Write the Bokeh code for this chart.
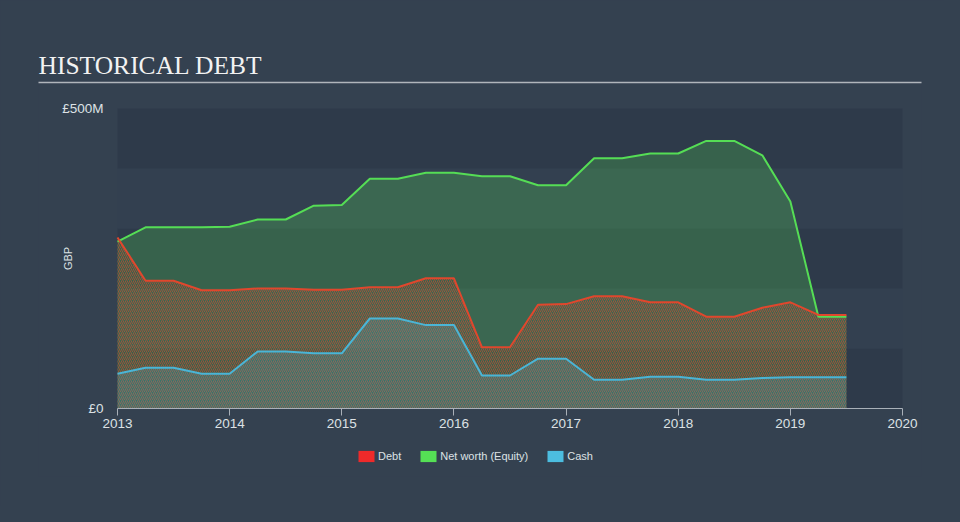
import math
from bokeh.plotting import figure
from bokeh.models import (BoxAnnotation, Legend, LegendItem, FixedTicker, Range1d,
                          LinearAxis, Label)
from bokeh.embed import file_html
from bokeh.resources import INLINE

# ---- data ----
dates = [2013.0, 2013.25, 2013.5, 2013.75, 2014.0, 2014.25, 2014.5, 2014.75,
         2015.0, 2015.25, 2015.5, 2015.75, 2016.0, 2016.25, 2016.5, 2016.75,
         2017.0, 2017.25, 2017.5, 2017.75, 2018.0, 2018.25, 2018.5, 2018.75,
         2019.0, 2019.25, 2019.5]
equity = [278, 302, 302, 302, 303, 315, 315, 338, 339, 383, 383, 393, 393, 387,
          387, 372, 372, 417, 417, 425, 425, 446, 446, 422, 345, 153, 153]
debt = [285, 213, 213, 197, 197, 200, 200, 198, 198, 202, 202, 217, 217, 102,
        102, 173, 174, 187, 187, 177, 177, 153, 153, 168, 177, 156, 156]
cash = [58, 68, 68, 58, 58, 95, 95, 92, 92, 150, 150, 139, 139, 55, 55, 83, 83,
        48, 48, 53, 53, 48, 48, 51, 52, 52, 52]

x_ticks = [2013, 2014, 2015, 2016, 2017, 2018, 2019, 2020]
x_tick_labels = ["2013", "2014", "2015", "2016", "2017", "2018", "2019", "2020"]
y_ticks = [0, 500]
y_tick_labels = ["£0", "£500M"]
band_edges = [0, 100, 200, 300, 400, 500]
series_names = ["Debt", "Net worth (Equity)", "Cash"]
title_text = "HISTORICAL DEBT"
y_axis_name = "GBP"

# ---- style / layout ----
BG = "#344150"
BAND_DARK = "#2e3a4a"
BAND_LIGHT = "#334050"
RED_LINE = "#e0472d"
GREEN_LINE = "#55dd55"
BLUE_LINE = "#4ab5d6"
RED_SW = "#ee2a2a"
GREEN_SW = "#55e055"
BLUE_SW = "#4cbde0"
TXT = "#dde1e5"
W, H = 944, 506
FRAME_L, FRAME_R, FRAME_T, FRAME_B = 38, 921, 82, 476   # whole drawing frame
DATA_L, DATA_R, DATA_T, DATA_B = 117, 902, 108, 408      # data area inside it
LEG_X, LEG_BOTTOM = 356, 462.5
X0, X1, Y1 = x_ticks[0], x_ticks[-1], y_ticks[-1]
ppy = (DATA_R - DATA_L) / (X1 - X0)
ppv = (DATA_B - DATA_T) / Y1

x_range = Range1d(X0 - (DATA_L - FRAME_L) / ppy, X1 + (FRAME_R - DATA_R) / ppy)
y_range = Range1d(-(FRAME_B - DATA_B) / ppv, Y1 + (DATA_T - FRAME_T) / ppv)

p = figure(width=W, height=H, output_backend="svg", toolbar_location=None,
           x_range=x_range, y_range=y_range,
           min_border_left=FRAME_L, min_border_right=W - FRAME_R,
           min_border_top=FRAME_T, min_border_bottom=H - FRAME_B)
p.border_fill_color = BG
p.background_fill_color = BG
p.outline_line_color = None
p.grid.visible = False

for i in range(len(band_edges) - 1):
    p.add_layout(BoxAnnotation(left=X0, right=X1, bottom=band_edges[i],
                               top=band_edges[i + 1],
                               fill_color=BAND_DARK if i % 2 == 0 else BAND_LIGHT,
                               fill_alpha=1.0, line_color=None, level="underlay"))

# areas
p.varea(x=dates, y1=0, y2=equity, fill_color=GREEN_LINE, fill_alpha=0.25)
p.varea(x=dates, y1=0, y2=debt, fill_alpha=0, hatch_pattern="/",
        hatch_color=RED_LINE, hatch_alpha=0.6, hatch_scale=4, hatch_weight=1)
p.varea(x=dates, y1=0, y2=cash, fill_color=BLUE_LINE, fill_alpha=0.22)

# lines
p.line(dates, equity, line_color=GREEN_LINE, line_width=2)
p.line(dates, debt, line_color=RED_LINE, line_width=2)
p.line(dates, cash, line_color=BLUE_LINE, line_width=2)

# x axis drawn at value 0
xa = p.xaxis[0]
xa.fixed_location = 0
xa.bounds = (X0, X1)
xa.ticker = FixedTicker(ticks=x_ticks)
xa.major_label_overrides = {t: l for t, l in zip(x_ticks, x_tick_labels)}
xa.axis_line_color = "#a9b0b8"
xa.major_tick_line_color = "#a9b0b8"
xa.major_tick_out = 7
xa.major_tick_in = 0
xa.minor_tick_line_color = None
xa.major_label_text_font = "Liberation Sans"
xa.major_label_text_font_size = "13.5px"
xa.major_label_text_color = TXT
xa.major_label_standoff = 3

ya = p.yaxis[0]
ya.bounds = (0, Y1)
ya.ticker = FixedTicker(ticks=y_ticks)
ya.major_label_overrides = {t: l for t, l in zip(y_ticks, y_tick_labels)}
ya.axis_line_color = None
ya.major_tick_line_color = None
ya.major_tick_out = 0
ya.major_tick_in = 0
ya.minor_tick_line_color = None
ya.major_label_text_font = "Liberation Sans"
ya.major_label_text_font_size = "13.5px"
ya.major_label_text_color = TXT
ya.major_label_standoff = -(DATA_L - 14 - FRAME_L)

# axis name, centred on the value range
p.add_layout(Label(x=X0, y=Y1 / 2, x_offset=-50, text=y_axis_name,
                   angle=math.pi / 2, text_font="Liberation Sans",
                   text_font_size="11px", text_color=TXT,
                   text_align="center", text_baseline="middle"))

# rule under the title: a bare axis on top of the drawing frame
rule = LinearAxis(ticker=FixedTicker(ticks=[]), axis_line_color="#b0b5bb",
                  axis_line_width=1.5, major_tick_line_color=None,
                  minor_tick_line_color=None, major_label_text_font_size="0px")
p.add_layout(rule, "above")

p.title.text = title_text
p.title.text_font = "Liberation Serif"
p.title.text_font_size = "25.5px"
p.title.text_font_style = "normal"
p.title.text_color = "#f2f2f2"
p.title.align = "left"
p.title.standoff = 5
p.title.offset = 0

# legend swatches: zero-height areas along each series (draw nothing on the chart)
r_d = p.varea(x=dates, y1=debt, y2=debt, fill_color=RED_SW)
r_e = p.varea(x=dates, y1=equity, y2=equity, fill_color=GREEN_SW)
r_c = p.varea(x=dates, y1=cash, y2=cash, fill_color=BLUE_SW)
legend = Legend(items=[LegendItem(label=series_names[0], renderers=[r_d]),
                       LegendItem(label=series_names[1], renderers=[r_e]),
                       LegendItem(label=series_names[2], renderers=[r_c])],
                orientation="horizontal",
                location=(LEG_X - FRAME_L, FRAME_B - LEG_BOTTOM),
                label_text_font="Liberation Sans", label_text_font_size="11px",
                label_text_color=TXT, glyph_width=20, glyph_height=14,
                label_height=12, label_standoff=2, spacing=17, padding=0,
                margin=0, background_fill_alpha=0, border_line_alpha=0)
p.add_layout(legend)

html = file_html(p, INLINE)
html = html.replace("</head>", "<style>html,body{background:%s;}</style></head>" % BG, 1)
open("out.html", "w").write(html)
